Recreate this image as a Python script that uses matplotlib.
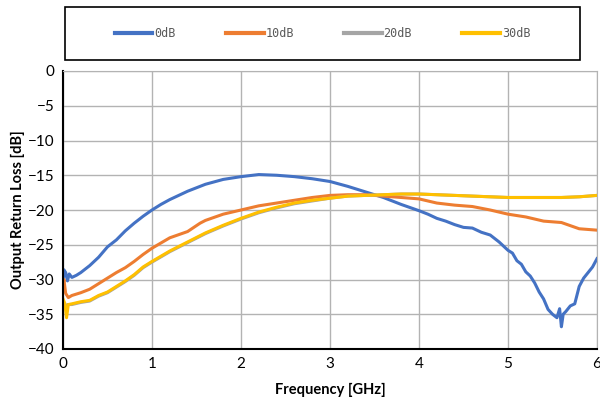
import matplotlib

matplotlib.use("Agg")
import matplotlib.pyplot as plt
from matplotlib.patches import Rectangle

# frequency [GHz] / return loss [dB]
freq_0db = [0, 0.01, 0.03, 0.05, 0.07, 0.1, 0.15, 0.2, 0.3, 0.4, 0.5, 0.6, 0.7, 0.8, 0.9,
            1.0, 1.1, 1.2, 1.4, 1.6, 1.8, 2.0, 2.2, 2.4, 2.6, 2.8, 3.0, 3.2, 3.4, 3.6, 3.8,
            4.0, 4.1, 4.2, 4.3, 4.4, 4.5, 4.6, 4.7, 4.8, 4.9, 5.0, 5.05, 5.1, 5.15, 5.2,
            5.25, 5.3, 5.35, 5.4, 5.45, 5.5, 5.55, 5.58, 5.6, 5.62, 5.65, 5.7, 5.75, 5.8,
            5.85, 5.9, 5.95, 6.0]
rl_0db = [-30.5, -28.6, -29.0, -30.2, -29.2, -29.7, -29.4, -29.0, -28.0, -26.8, -25.3, -24.3,
          -23.0, -21.9, -20.9, -20.0, -19.2, -18.5, -17.3, -16.3, -15.6, -15.2, -14.9, -15.0,
          -15.2, -15.5, -15.9, -16.6, -17.4, -18.2, -19.2, -20.1, -20.6, -21.2, -21.6, -22.1,
          -22.5, -22.6, -23.2, -23.6, -24.6, -25.8, -26.2, -27.3, -27.8, -28.9, -29.5, -30.5,
          -31.8, -32.8, -34.3, -35.0, -35.5, -34.2, -36.8, -35.0, -34.6, -33.8, -33.5, -31.0,
          -29.8, -29.0, -28.2, -27.0]

freq_10db = [0, 0.01, 0.03, 0.06, 0.1, 0.2, 0.3, 0.4, 0.5, 0.6, 0.7, 0.8, 0.9, 1.0, 1.2, 1.4,
             1.54, 1.6, 1.8, 2.0, 2.2, 2.4, 2.6, 2.8, 3.0, 3.2, 3.4, 3.6, 3.8, 4.0, 4.2, 4.4,
             4.6, 4.8, 5.0, 5.2, 5.4, 5.6, 5.8, 5.9, 6.0]
rl_10db = [-31.0, -30.0, -32.0, -32.6, -32.3, -31.9, -31.4, -30.6, -29.8, -29.0, -28.3, -27.4,
           -26.4, -25.5, -24.0, -23.1, -21.9, -21.5, -20.6, -20.0, -19.4, -19.0, -18.6, -18.2,
           -17.9, -17.8, -17.8, -18.0, -18.2, -18.4, -19.0, -19.3, -19.5, -20.0, -20.6, -21.0,
           -21.6, -21.8, -22.7, -22.8, -22.9]

freq_20db = [0, 0.02, 0.05, 0.1, 0.2, 0.3, 0.4, 0.5, 0.6, 0.7, 0.8, 0.9, 1.0, 1.2, 1.4, 1.6,
             1.8, 2.0, 2.2, 2.4, 2.6, 2.8, 3.0, 3.2, 3.4, 3.6, 3.8, 4.0, 4.2, 4.4, 4.6, 4.8,
             5.0, 5.2, 5.4, 5.6, 5.8, 6.0]
rl_20db = [-34.2, -34.0, -33.6, -33.6, -33.3, -33.1, -32.4, -31.9, -31.1, -30.3, -29.4, -28.3,
           -27.5, -26.0, -24.7, -23.4, -22.3, -21.3, -20.4, -19.7, -19.1, -18.7, -18.3, -18.0,
           -17.9, -17.8, -17.7, -17.7, -17.8, -17.9, -18.0, -18.1, -18.2, -18.2, -18.2, -18.2,
           -18.1, -17.9]

freq_30db = [0, 0.02, 0.04, 0.06, 0.1, 0.2, 0.3, 0.4, 0.5, 0.6, 0.7, 0.8, 0.9, 1.0, 1.2, 1.4,
             1.6, 1.8, 2.0, 2.2, 2.4, 2.6, 2.8, 3.0, 3.2, 3.4, 3.6, 3.8, 4.0, 4.2, 4.4, 4.6,
             4.8, 5.0, 5.2, 5.4, 5.6, 5.8, 6.0]
rl_30db = [-32.8, -33.4, -35.5, -33.6, -33.5, -33.2, -33.0, -32.3, -31.8, -31.0, -30.2, -29.3,
           -28.2, -27.4, -25.9, -24.6, -23.3, -22.2, -21.2, -20.3, -19.6, -19.0, -18.6, -18.3,
           -18.0, -17.9, -17.8, -17.7, -17.7, -17.8, -17.9, -18.0, -18.1, -18.2, -18.2, -18.2,
           -18.2, -18.1, -17.9]

series = [
    ("0dB", freq_0db, rl_0db, "#4472C4"),
    ("10dB", freq_10db, rl_10db, "#ED7D31"),
    ("20dB", freq_20db, rl_20db, "#A5A5A5"),
    ("30dB", freq_30db, rl_30db, "#FFC000"),
]

plt.rcParams["font.family"] = ["Lato", "DejaVu Sans"]

fig = plt.figure(figsize=(6, 4), dpi=100)
ax = fig.add_axes([0.105, 0.1275, 0.89, 0.695])

for name, xs, ys, color in series:
    ax.plot(xs, ys, color=color, lw=2.2, label=name)

ax.set_xlim(0, 6)
ax.set_ylim(-40, 0)
ax.set_xticks(range(0, 7))
ax.set_yticks(range(-40, 1, 5))
ax.tick_params(length=0, labelsize=11, pad=6)
ax.grid(True, color="#b3b3b3", lw=1.0)
ax.set_axisbelow(True)
for side in ("top", "right"):
    ax.spines[side].set_color("#b3b3b3")
for side in ("left", "bottom"):
    ax.spines[side].set_color("#000000")
    ax.spines[side].set_linewidth(1.5)

ax.set_xlabel("Frequency [GHz]", fontsize=10.5, fontweight="bold", labelpad=8)
ax.set_ylabel("Output Return Loss [dB]", fontsize=10.5, fontweight="bold", labelpad=2)

# legend sits in its own framed box above the plot
box = (0.108, 0.85, 0.859, 0.1325)
fig.patches.append(Rectangle(box[:2], box[2], box[3], transform=fig.transFigure,
                             fill=False, edgecolor="#000000", lw=1.2))
leg = fig.legend(loc="center", bbox_to_anchor=box, ncol=4, frameon=False,
                 handlelength=3.2, handletextpad=0.15, columnspacing=4.25,
                 prop={"family": "DejaVu Sans Mono", "size": 8.5})
for line in leg.get_lines():
    line.set_linewidth(3)
for t in leg.get_texts():
    t.set_color("#595959")

fig.savefig("out.png", dpi=100)
